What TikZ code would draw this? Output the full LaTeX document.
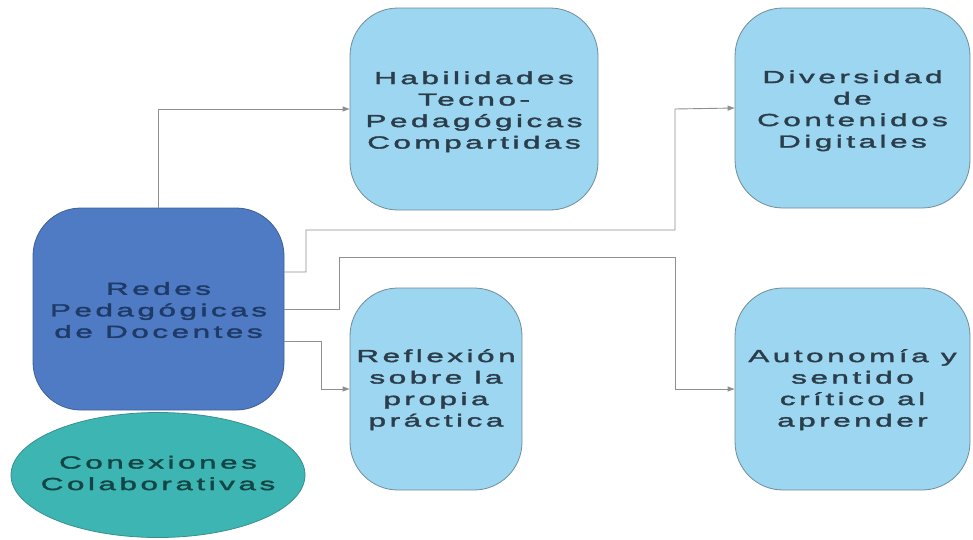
\documentclass[tikz,border=0pt]{standalone}
\usepackage{fontspec}
\usepackage{graphicx}
\setmainfont{Liberation Sans}
\newfontfamily\boxfont[FakeStretch=1.8,LetterSpace=20,FakeBold=2]{Liberation Sans}
\usetikzlibrary{arrows.meta,shapes.geometric}
\definecolor{lightbox}{HTML}{9DD6F0}
\definecolor{lightborder}{HTML}{6F8C9A}
\definecolor{darkbox}{HTML}{4F7BC4}
\definecolor{darkborder}{HTML}{3D5F95}
\definecolor{tealfill}{HTML}{3DB5B3}
\definecolor{tealborder}{HTML}{3A8F8E}
\definecolor{boxtext}{HTML}{2B3D4A}
\definecolor{darktext}{HTML}{1E3A66}
\definecolor{tealtext}{HTML}{134545}
\definecolor{wire}{HTML}{8F8F8F}
\newcommand\boxlbl[2][-2.5pt]{\raisebox{#1}[\height][\depth]{\begin{tabular}{@{}c@{}}#2\end{tabular}}}
\begin{document}
\begin{tikzpicture}[x=1pt,y=-1pt,
  boxbase/.style={rectangle,rounded corners=48pt,align=center,inner sep=0pt,
    font=\boxfont\fontsize{17.5}{21.5}\selectfont},
  lightnode/.style={boxbase,fill=lightbox,draw=lightborder,line width=0.8pt,text=boxtext},
  darknode/.style={boxbase,fill=darkbox,draw=darkborder,line width=0.8pt,text=darktext},
  tealnode/.style={ellipse,inner sep=0pt,fill=tealfill,draw=tealborder,line width=0.8pt,text=tealtext,
    align=center,font=\boxfont\fontsize{17.5}{21.5}\selectfont},
  wireline/.style={draw=wire,line width=0.9pt,-{Triangle[length=7pt,width=5pt]}}]
\useasboundingbox (0,0) rectangle (973,539);
\node[lightnode,minimum width=248pt,minimum height=202pt] (hab) at (474,109)
  {\boxlbl[-3pt]{Habilidades\\Tecno-\\Pedagógicas\\Compartidas}};
\node[lightnode,minimum width=235pt,minimum height=200pt] (div) at (852.5,108)
  {\boxlbl[-3pt]{Diversidad\\de\\Contenidos\\Digitales}};
\node[darknode,minimum width=251pt,minimum height=202pt] (redes) at (158.5,309)
  {\boxlbl[-3pt]{Redes\\Pedagógicas\\de Docentes}};
\node[lightnode,minimum width=172pt,minimum height=202pt] (ref) at (436,389)
  {\boxlbl[-1pt]{Reflexión\\sobre la\\propia\\práctica}};
\node[lightnode,minimum width=235pt,minimum height=202pt] (aut) at (852.5,389)
  {\boxlbl[-1pt]{Autonomía y\\sentido\\crítico al\\aprender}};
\node[tealnode,minimum width=294pt,minimum height=125pt] (con) at (158,475)
  {\makebox[0pt][c]{\boxlbl[0pt]{Conexiones\\Colaborativas}}};
\draw[wireline] (redes.north) |- (hab.west);
\draw[wireline] ([yshift=37pt]redes.east) -| (306,230) -| (675,109) -- (div.west);
\draw[wireline] (redes.east) -| (339,257) -| (675,389) -- (aut.west);
\draw[wireline] ([yshift=-32pt]redes.east) -| (321,389) -- (ref.west);
\end{tikzpicture}
\end{document}
